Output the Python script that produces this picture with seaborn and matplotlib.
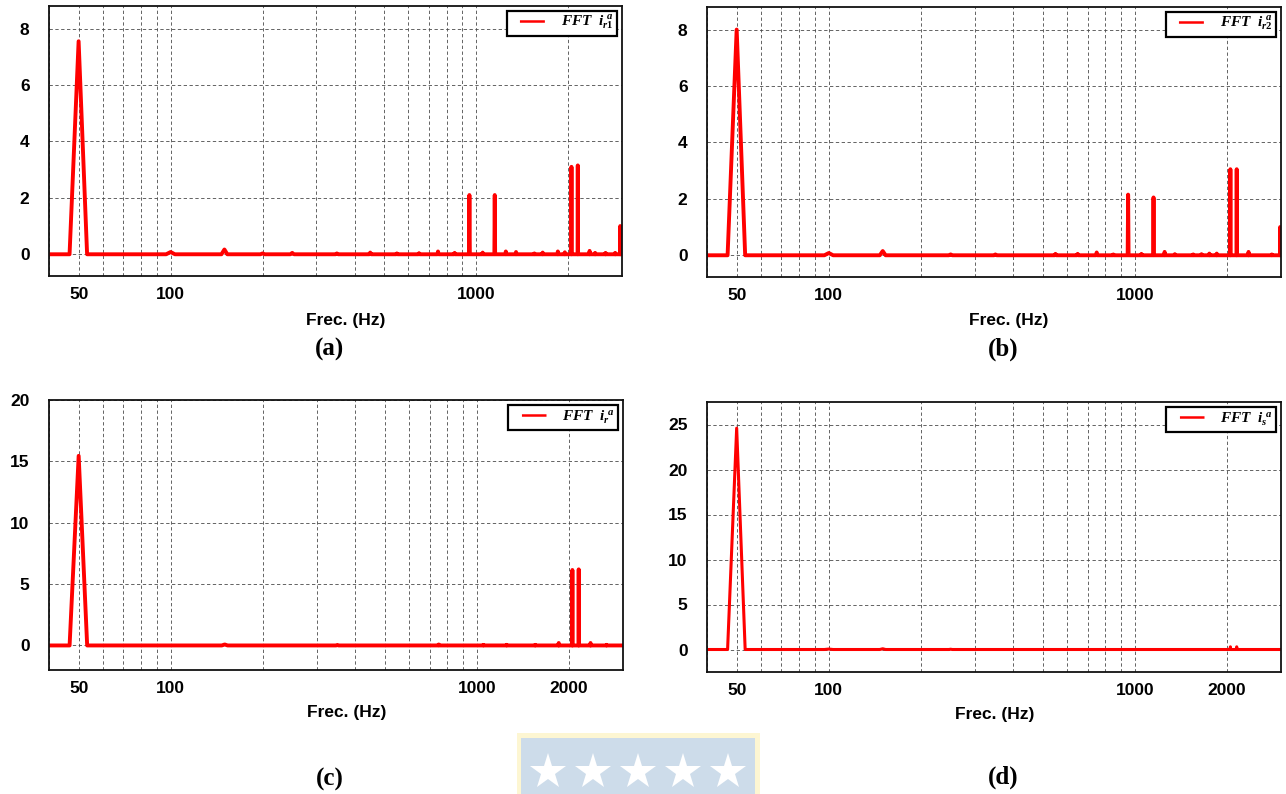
import matplotlib
matplotlib.use("Agg")
import matplotlib.pyplot as plt
from matplotlib.lines import Line2D
from matplotlib.patches import Rectangle
from matplotlib.ticker import NullLocator
import pandas as pd
import seaborn as sns

# ---------------------------------------------------------------------------
# Spectral lines (frequency in Hz, amplitude in A) of each phase-a current
# ---------------------------------------------------------------------------
freq_ir1 = [50, 100, 150, 200, 250, 350, 450, 550, 650, 750, 850, 950, 1050,
            1150, 1250, 1350, 1550, 1650, 1850, 1950, 2050, 2150, 2350, 2450,
            2650, 2850, 2960]
amp_ir1 = [7.55, 0.08, 0.17, 0.03, 0.05, 0.03, 0.06, 0.03, 0.04, 0.10, 0.05,
           2.10, 0.06, 2.10, 0.10, 0.08, 0.03, 0.06, 0.10, 0.07, 3.10, 3.15,
           0.12, 0.05, 0.05, 0.05, 1.00]

freq_ir2 = [50, 100, 150, 250, 350, 550, 650, 750, 850, 950, 1050, 1150,
            1250, 1350, 1550, 1650, 1750, 1850, 2050, 2150, 2350, 2800, 2980]
amp_ir2 = [8.00, 0.08, 0.15, 0.03, 0.03, 0.05, 0.05, 0.10, 0.03, 2.15, 0.05,
           2.05, 0.12, 0.04, 0.03, 0.04, 0.06, 0.06, 3.05, 3.05, 0.12, 0.03,
           1.00]

freq_ir = [50, 150, 350, 750, 1050, 1250, 1550, 1850, 2050, 2150, 2350, 2650]
amp_ir = [15.45, 0.08, 0.04, 0.08, 0.05, 0.05, 0.05, 0.20, 6.15, 6.20, 0.20,
          0.05]

freq_is = [50, 100, 150, 250, 2050, 2150]
amp_is = [24.60, 0.05, 0.08, 0.03, 0.30, 0.30]

# Axis settings per panel
y_ticks_a = [0, 2, 4, 6, 8]
y_ticks_c = [0, 5, 10, 15, 20]
y_ticks_d = [0, 5, 10, 15, 20, 25]
grid_freqs = [40, 50, 60, 70, 80, 90, 100, 200, 300, 400, 500, 600, 700, 800,
              900, 1000, 2000, 3000]
labels_top = [50, 100, 1000]
labels_bottom = [50, 100, 1000, 2000]

BIN_HZ = 3.3          # FFT frequency resolution
F_LO, F_HI = 40, 3000


def spectrum(freqs, amps):
    """Line through the FFT bins: zero floor with one bin per spectral line."""
    x, y = [F_LO], [0.0]
    for f, a in zip(freqs, amps):
        x += [f - BIN_HZ, f, f + BIN_HZ]
        y += [0.0, a, 0.0]
    x.append(F_HI)
    y.append(0.0)
    return pd.DataFrame({"Frec": x, "Amp": y})


sns.set_style("white")
plt.rcParams["font.family"] = ["Liberation Sans", "DejaVu Sans"]
plt.rcParams["text.color"] = "black"
plt.rcParams["axes.labelcolor"] = "black"
plt.rcParams["xtick.color"] = "black"
plt.rcParams["ytick.color"] = "black"
plt.rcParams["mathtext.fontset"] = "custom"
plt.rcParams["mathtext.rm"] = "Liberation Serif:bold"
plt.rcParams["mathtext.it"] = "Liberation Serif:italic:bold"
plt.rcParams["mathtext.bf"] = "Liberation Serif:bold"

W, H = 1286, 794
fig = plt.figure(figsize=(W / 100, H / 100), dpi=100)


def px_axes(left, top, right, bottom):
    return fig.add_axes([left / W, 1 - bottom / H, (right - left) / W,
                         (bottom - top) / H])


panels = [
    dict(box=(49, 6, 622, 276), data=spectrum(freq_ir1, amp_ir1),
         label=r"$FFT\ \ i_{r1}^{\ a}$", ylim=(-0.77, 8.8), yt=y_ticks_a,
         xl=labels_top, lw=2.8, xlab=(346, 320), cap="(a)", cap_xy=(330, 349)),
    dict(box=(707, 7, 1281, 277), data=spectrum(freq_ir2, amp_ir2),
         label=r"$FFT\ \ i_{r2}^{\ a}$", ylim=(-0.77, 8.8), yt=y_ticks_a,
         xl=labels_top, lw=2.8, xlab=(1009, 320), cap="(b)",
         cap_xy=(1003, 349)),
    dict(box=(49, 400, 623, 670), data=spectrum(freq_ir, amp_ir),
         label=r"$FFT\ \ i_{r}^{\ a}$", ylim=(-2.0, 20.0), yt=y_ticks_c,
         xl=labels_bottom, lw=2.8, xlab=(347, 713), cap="(c)",
         cap_xy=(330, 779)),
    dict(box=(707, 402, 1281, 672), data=spectrum(freq_is, amp_is),
         label=r"$FFT\ \ i_{s}^{\ a}$", ylim=(-2.5, 27.5), yt=y_ticks_d,
         xl=labels_bottom, lw=2.2, xlab=(995, 715), cap="(d)",
         cap_xy=(1003, 777)),
]

LEG_FS = 11.0          # legend font size (pt)
HANDLE_LEN = 2.25      # legend handle length (font-size units)
gap_pt, dash_pt = 6.8, HANDLE_LEN * LEG_FS - 6.8
LEG_LW = 1.8

for p in panels:
    left, top, right, bottom = p["box"]
    ax = px_axes(left, top, right, bottom)
    sns.lineplot(data=p["data"], x="Frec", y="Amp", ax=ax, color="#ff0000",
                 lw=p["lw"], estimator=None, sort=False, legend=False)
    ax.set_xscale("log")
    ax.set_xlim(F_LO, F_HI)
    ax.set_ylim(*p["ylim"])
    ax.set_xticks(grid_freqs)
    ax.set_xticklabels([str(f) if f in p["xl"] else "" for f in grid_freqs])
    ax.xaxis.set_minor_locator(NullLocator())
    ax.set_yticks(p["yt"])
    ax.set_yticklabels([str(v) for v in p["yt"]])
    ax.grid(True, which="major", color="#4a4a4a", linestyle=(0, (4, 3)),
            linewidth=0.6)
    ax.tick_params(axis="both", length=0, labelsize=12.5, labelcolor="black")
    ax.tick_params(axis="x", pad=8)
    ax.tick_params(axis="y", pad=14)
    for t in ax.get_xticklabels() + ax.get_yticklabels():
        t.set_fontweight("bold")
    for s in ax.spines.values():
        s.set_visible(True)
        s.set_color("#111111")
        s.set_linewidth(1.3)

    ax.set_xlabel("Frec. (Hz)", fontsize=12.5, fontweight="bold",
                  color="black")
    ax.set_ylabel("")
    ax.xaxis.label.set_va("center")
    ax.xaxis.set_label_coords((p["xlab"][0] - left) / (right - left),
                              (bottom - p["xlab"][1]) / (bottom - top))

    # legend handle: short red dash preceded by a small blank gap
    handle = Line2D([], [], color="#ff0000", lw=LEG_LW,
                    linestyle=(dash_pt / LEG_LW,
                               (dash_pt / LEG_LW, gap_pt / LEG_LW)))
    leg = ax.legend([handle], [p["label"]], loc="upper right",
                    fontsize=LEG_FS, frameon=True, fancybox=False,
                    framealpha=1, edgecolor="black", borderaxespad=0.3,
                    handlelength=HANDLE_LEN, handletextpad=1.05,
                    borderpad=0.25, labelcolor="black")
    leg.get_frame().set_linewidth(1.6)

    fig.text(p["cap_xy"][0] / W, 1 - p["cap_xy"][1] / H, p["cap"],
             family="Liberation Serif", fontweight="bold", fontsize=18,
             color="black", ha="center", va="center")

# Banner with five stars at the bottom centre
fig.patches.append(Rectangle((517 / W, 0), (760 - 517) / W, (794 - 733) / H,
                             transform=fig.transFigure, facecolor="#fdf6d2",
                             edgecolor="none", zorder=0))
fig.patches.append(Rectangle((521 / W, 0), (755 - 521) / W, (794 - 738) / H,
                             transform=fig.transFigure, facecolor="#cddcea",
                             edgecolor="none", zorder=1))
star_x = [548, 593, 638, 683, 728]
fig.lines.append(Line2D([x / W for x in star_x], [1 - 772 / H] * len(star_x),
                        transform=fig.transFigure, linestyle="none",
                        marker="*", markersize=27, markerfacecolor="white",
                        markeredgewidth=0, zorder=2))

fig.savefig("out.png", dpi=100)
